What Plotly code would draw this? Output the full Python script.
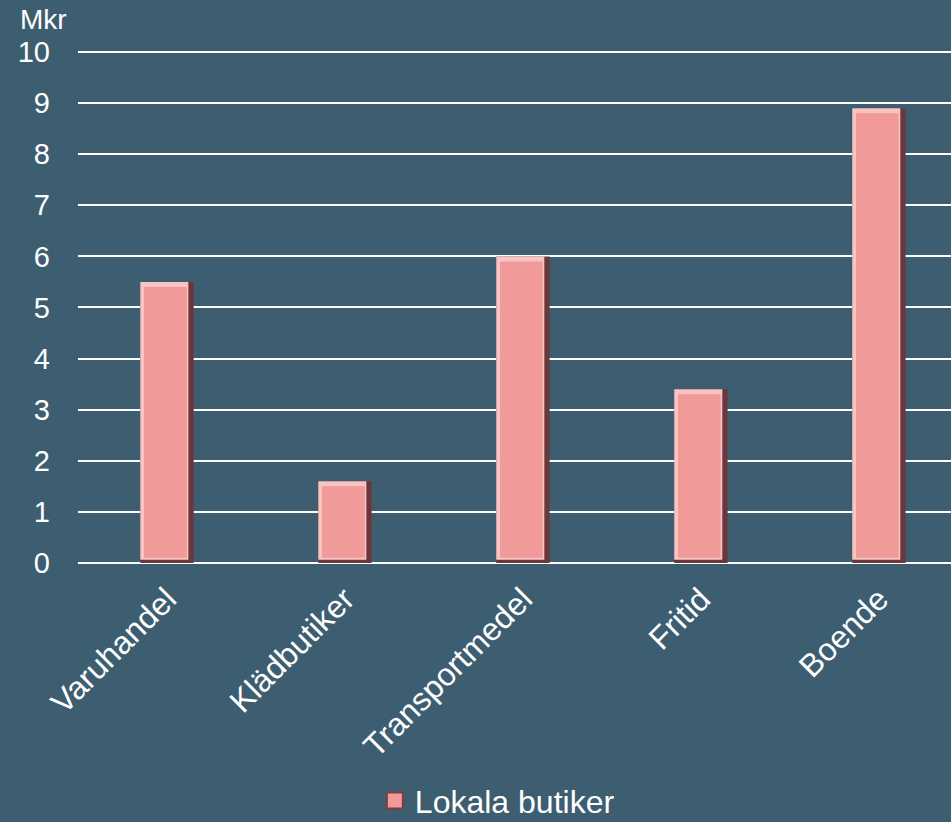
import plotly.graph_objects as go

categories = ["Varuhandel", "Klädbutiker", "Transportmedel", "Fritid", "Boende"]
values = [5.5, 1.6, 6.0, 3.4, 8.9]
series_name = "Lokala butiker"
y_ticks = [0, 1, 2, 3, 4, 5, 6, 7, 8, 9, 10]

BG = "#3d5d70"
FACE = "#f09a9a"
FONT = "Liberation Sans, Arial, sans-serif"

bw = 0.30      # bar width (category units)
bev_x = 0.03   # bevel width in x units
bev_y = 0.10   # bevel height in y units

fig = go.Figure()
# dark body (right/bottom edges)
fig.add_trace(go.Bar(x=categories, y=values, width=bw, marker=dict(color="#6a383c", line=dict(width=0)),
                     showlegend=False, hoverinfo="skip"))
# light highlight (top/left edges)
fig.add_trace(go.Bar(x=categories, y=[v - bev_y * 0.6 for v in values], base=[bev_y * 0.6] * len(values),
                     width=bw - bev_x, offset=-bw / 2,
                     marker=dict(color="#f8c4c4", line=dict(width=0)), showlegend=False, hoverinfo="skip"))
# main face
fig.add_trace(go.Bar(x=categories, y=[v - 2 * bev_y for v in values], base=[bev_y] * len(values),
                     width=bw - 2 * bev_x, offset=-bw / 2 + bev_x * 0.7,
                     marker=dict(color=FACE, line=dict(width=0)), showlegend=False, hoverinfo="skip"))
# legend entry
fig.add_trace(go.Scatter(x=[None], y=[None], mode="markers", name=series_name,
                         marker=dict(symbol="square", size=16, color=FACE,
                                     line=dict(color="#7a3e42", width=2)), showlegend=True))

fig.update_layout(
    width=951, height=822,
    paper_bgcolor=BG, plot_bgcolor=BG,
    margin=dict(l=78, r=0, t=49, b=259),
    barmode="overlay",
    font=dict(family=FONT, color="white", size=28),
    showlegend=True,
    legend=dict(orientation="h", xref="container", yref="container", x=0.523, xanchor="center",
                y=0.026, yanchor="middle", itemsizing="trace",
                font=dict(size=32, color="white"), bgcolor="rgba(0,0,0,0)"),
    xaxis=dict(range=[-0.5, 4.405], tickangle=-45, showgrid=False, showline=False, zeroline=False,
               ticks="", automargin=False, ticklabelstandoff=10,
               tickfont=dict(size=32, color="white")),
    yaxis=dict(range=[-0.002, 10.06], tickvals=y_ticks, ticktext=[str(t) for t in y_ticks],
               showgrid=True, gridcolor="white", gridwidth=2, zeroline=True, zerolinecolor="white",
               zerolinewidth=2, showline=False, ticks="", ticklabelstandoff=27, automargin=False,
               tickfont=dict(size=29, color="white")),
    annotations=[dict(text="Mkr", xref="paper", yref="paper", x=-0.0687, y=1.058, xanchor="left",
                      yanchor="middle", showarrow=False, font=dict(size=28, color="white"))],
)

fig.write_html("out.html", config={"displayModeBar": False},
               post_script="document.body.style.margin='0';document.body.style.padding='0';"
                           "document.body.style.background='" + BG + "';")
